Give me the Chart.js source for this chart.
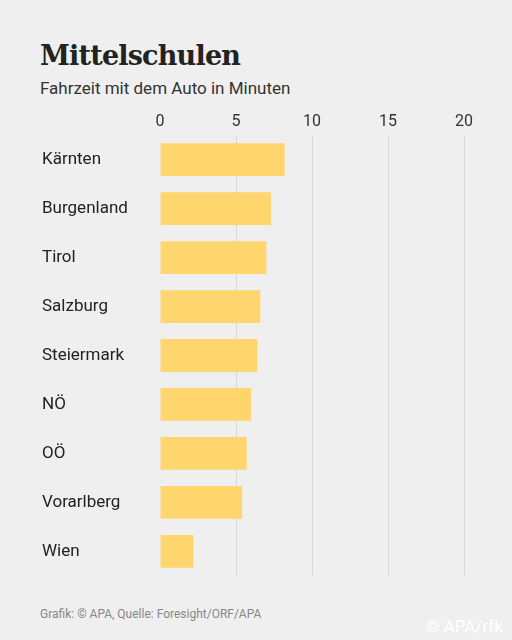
<!DOCTYPE html>
<html><head><meta charset="utf-8">
<script src="https://cdn.jsdelivr.net/npm/chart.js@4"></script>
<style>
body{margin:0;background:#efefef;width:512px;height:640px;position:relative;overflow:hidden;font-family:Roboto,sans-serif}
#t{position:absolute;left:40px;top:40px;font-family:"DejaVu Serif",serif;font-weight:bold;font-size:27px;color:#222;letter-spacing:-0.8px}
#s{position:absolute;left:40px;top:78px;font-size:17px;color:#333}
#f{position:absolute;left:40px;top:607px;font-size:12px;color:#888}
#c{position:absolute;left:426px;top:616px;font-size:17px;color:#fff;white-space:nowrap}
#w{position:absolute;left:42px;top:108px;width:438px;height:478px}
</style></head><body>
<div id="t">Mittelschulen</div>
<div id="s">Fahrzeit mit dem Auto in Minuten</div>
<div id="w"><canvas id="cv"></canvas></div>
<div id="f">Grafik: © APA, Quelle: Foresight/ORF/APA</div>
<div id="c">© APA/rfk</div>
<script>
const categories=["Kärnten","Burgenland","Tirol","Salzburg","Steiermark","NÖ","OÖ","Vorarlberg","Wien"];
const values=[8.2,7.3,7.0,6.6,6.4,6.0,5.7,5.4,2.2];
const tickValues=[0,5,10,15,20];
new Chart(document.getElementById('cv'),{type:'bar',
data:{labels:categories,datasets:[{data:values,backgroundColor:'#ffd66e',barPercentage:0.67,categoryPercentage:1}]},
options:{indexAxis:'y',responsive:true,maintainAspectRatio:false,animation:false,
layout:{padding:{right:16,bottom:4}},
plugins:{legend:{display:false},tooltip:{enabled:false}},
scales:{
x:{position:'top',min:0,max:20,afterBuildTicks:a=>{a.ticks=tickValues.map(v=>({value:v}))},
ticks:{color:'#333',font:{family:'Roboto',size:16},padding:4},
grid:{color:c=>c.tick&&c.tick.value===0?'rgba(0,0,0,0)':'#d8d8d8',drawTicks:false},border:{display:false}},
y:{afterFit:a=>{a.width=118},ticks:{crossAlign:'far',color:'#222',font:{family:'Roboto',size:17},padding:0},
grid:{display:false},border:{display:false}}
}}});
</script></body></html>
